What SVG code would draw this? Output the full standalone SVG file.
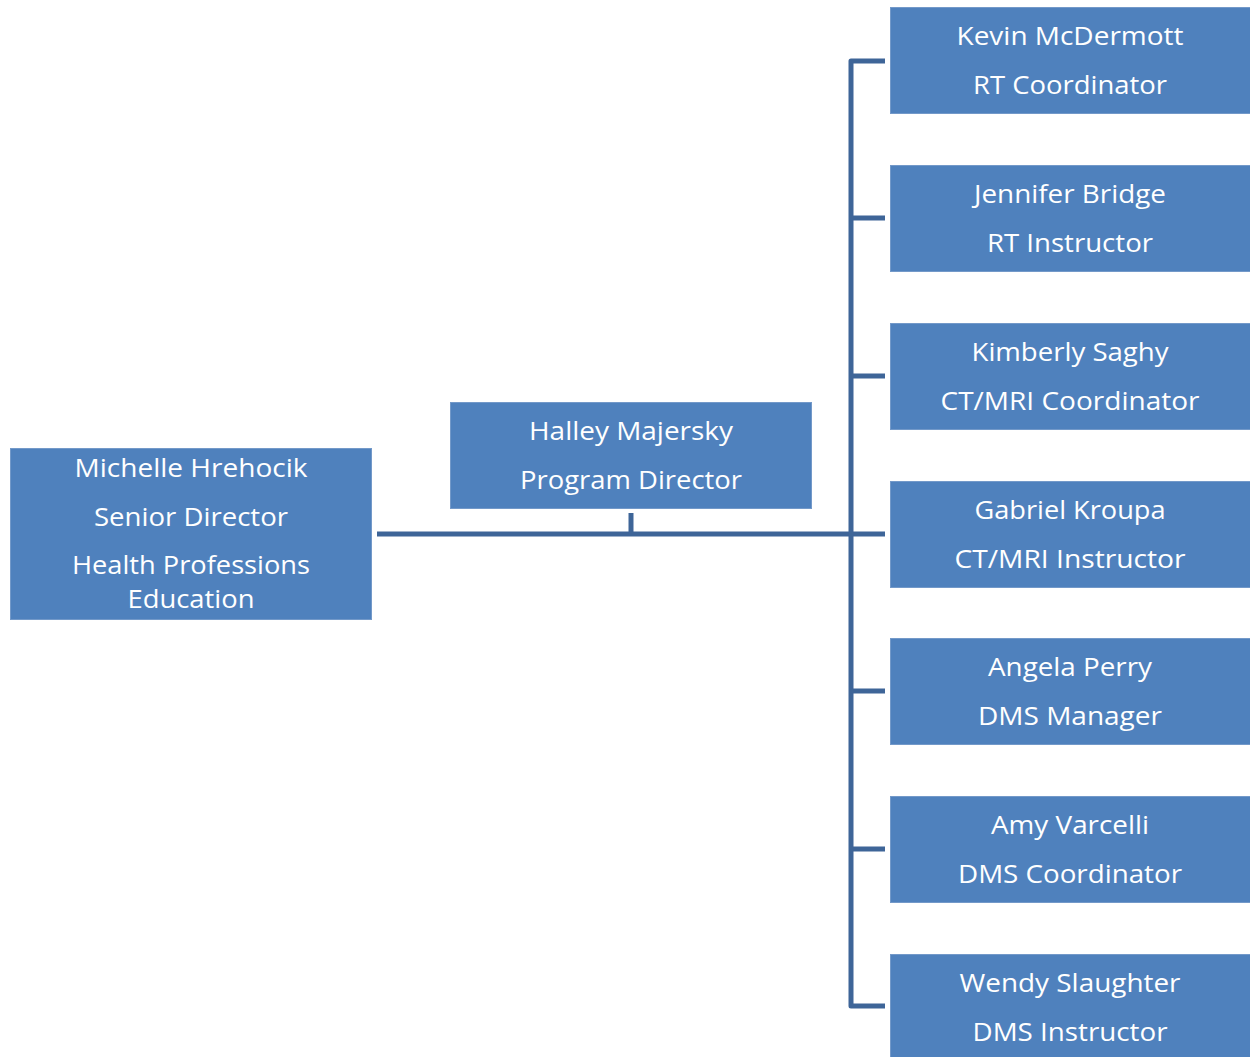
<svg xmlns="http://www.w3.org/2000/svg" width="1250" height="1057" viewBox="0 0 1250 1057">
<style>
.box{fill:#4f81bd;stroke:#7399c9;stroke-width:1}
.t{fill:#ffffff;font-family:"Open Sans","Noto Sans","Liberation Sans",sans-serif;font-size:26px;text-anchor:middle}
.c{stroke:#3e6598;stroke-width:5;fill:none;stroke-linejoin:round}
</style>
<rect width="1250" height="1057" fill="#ffffff"/>
<g id="connectors">
<path class="c" d="M377 534H885"/>
<path class="c" d="M631 513V534"/>
<path class="c" d="M885 61H851V1006H885"/>
<path class="c" d="M851 218H885M851 376H885M851 691H885M851 849H885"/>
</g>
<g id="n-michelle">
<rect class="box" x="10.5" y="448.5" width="361" height="171"/>
<text class="t" x="191" y="477" textLength="233" lengthAdjust="spacingAndGlyphs">Michelle Hrehocik</text>
<text class="t" x="191" y="526" textLength="194" lengthAdjust="spacingAndGlyphs">Senior Director</text>
<text class="t" x="191" y="574" textLength="238" lengthAdjust="spacingAndGlyphs">Health Professions</text>
<text class="t" x="191" y="608" textLength="127" lengthAdjust="spacingAndGlyphs">Education</text>
</g>
<g id="n-halley">
<rect class="box" x="450.5" y="402.5" width="361" height="106"/>
<text class="t" x="631" y="440" textLength="204" lengthAdjust="spacingAndGlyphs">Halley Majersky</text>
<text class="t" x="631" y="489" textLength="222" lengthAdjust="spacingAndGlyphs">Program Director</text>
</g>
<g id="n-kevin">
<rect class="box" x="890.5" y="7.5" width="360" height="106"/>
<text class="t" x="1070" y="45" textLength="227" lengthAdjust="spacingAndGlyphs">Kevin McDermott</text>
<text class="t" x="1070" y="94" textLength="194" lengthAdjust="spacingAndGlyphs">RT Coordinator</text>
</g>
<g id="n-jennifer">
<rect class="box" x="890.5" y="165.5" width="360" height="106"/>
<text class="t" x="1070" y="203" textLength="192" lengthAdjust="spacingAndGlyphs">Jennifer Bridge</text>
<text class="t" x="1070" y="252" textLength="166" lengthAdjust="spacingAndGlyphs">RT Instructor</text>
</g>
<g id="n-kimberly">
<rect class="box" x="890.5" y="323.5" width="360" height="106"/>
<text class="t" x="1070" y="361" textLength="197" lengthAdjust="spacingAndGlyphs">Kimberly Saghy</text>
<text class="t" x="1070" y="410" textLength="259" lengthAdjust="spacingAndGlyphs">CT/MRI Coordinator</text>
</g>
<g id="n-gabriel">
<rect class="box" x="890.5" y="481.5" width="360" height="106"/>
<text class="t" x="1070" y="519" textLength="191" lengthAdjust="spacingAndGlyphs">Gabriel Kroupa</text>
<text class="t" x="1070" y="568" textLength="231" lengthAdjust="spacingAndGlyphs">CT/MRI Instructor</text>
</g>
<g id="n-angela">
<rect class="box" x="890.5" y="638.5" width="360" height="106"/>
<text class="t" x="1070" y="676" textLength="164" lengthAdjust="spacingAndGlyphs">Angela Perry</text>
<text class="t" x="1070" y="725" textLength="184" lengthAdjust="spacingAndGlyphs">DMS Manager</text>
</g>
<g id="n-amy">
<rect class="box" x="890.5" y="796.5" width="360" height="106"/>
<text class="t" x="1070" y="834" textLength="158" lengthAdjust="spacingAndGlyphs">Amy Varcelli</text>
<text class="t" x="1070" y="883" textLength="224" lengthAdjust="spacingAndGlyphs">DMS Coordinator</text>
</g>
<g id="n-wendy">
<rect class="box" x="890.5" y="954.5" width="360" height="106"/>
<text class="t" x="1070" y="992" textLength="221" lengthAdjust="spacingAndGlyphs">Wendy Slaughter</text>
<text class="t" x="1070" y="1041" textLength="195" lengthAdjust="spacingAndGlyphs">DMS Instructor</text>
</g>
</svg>
